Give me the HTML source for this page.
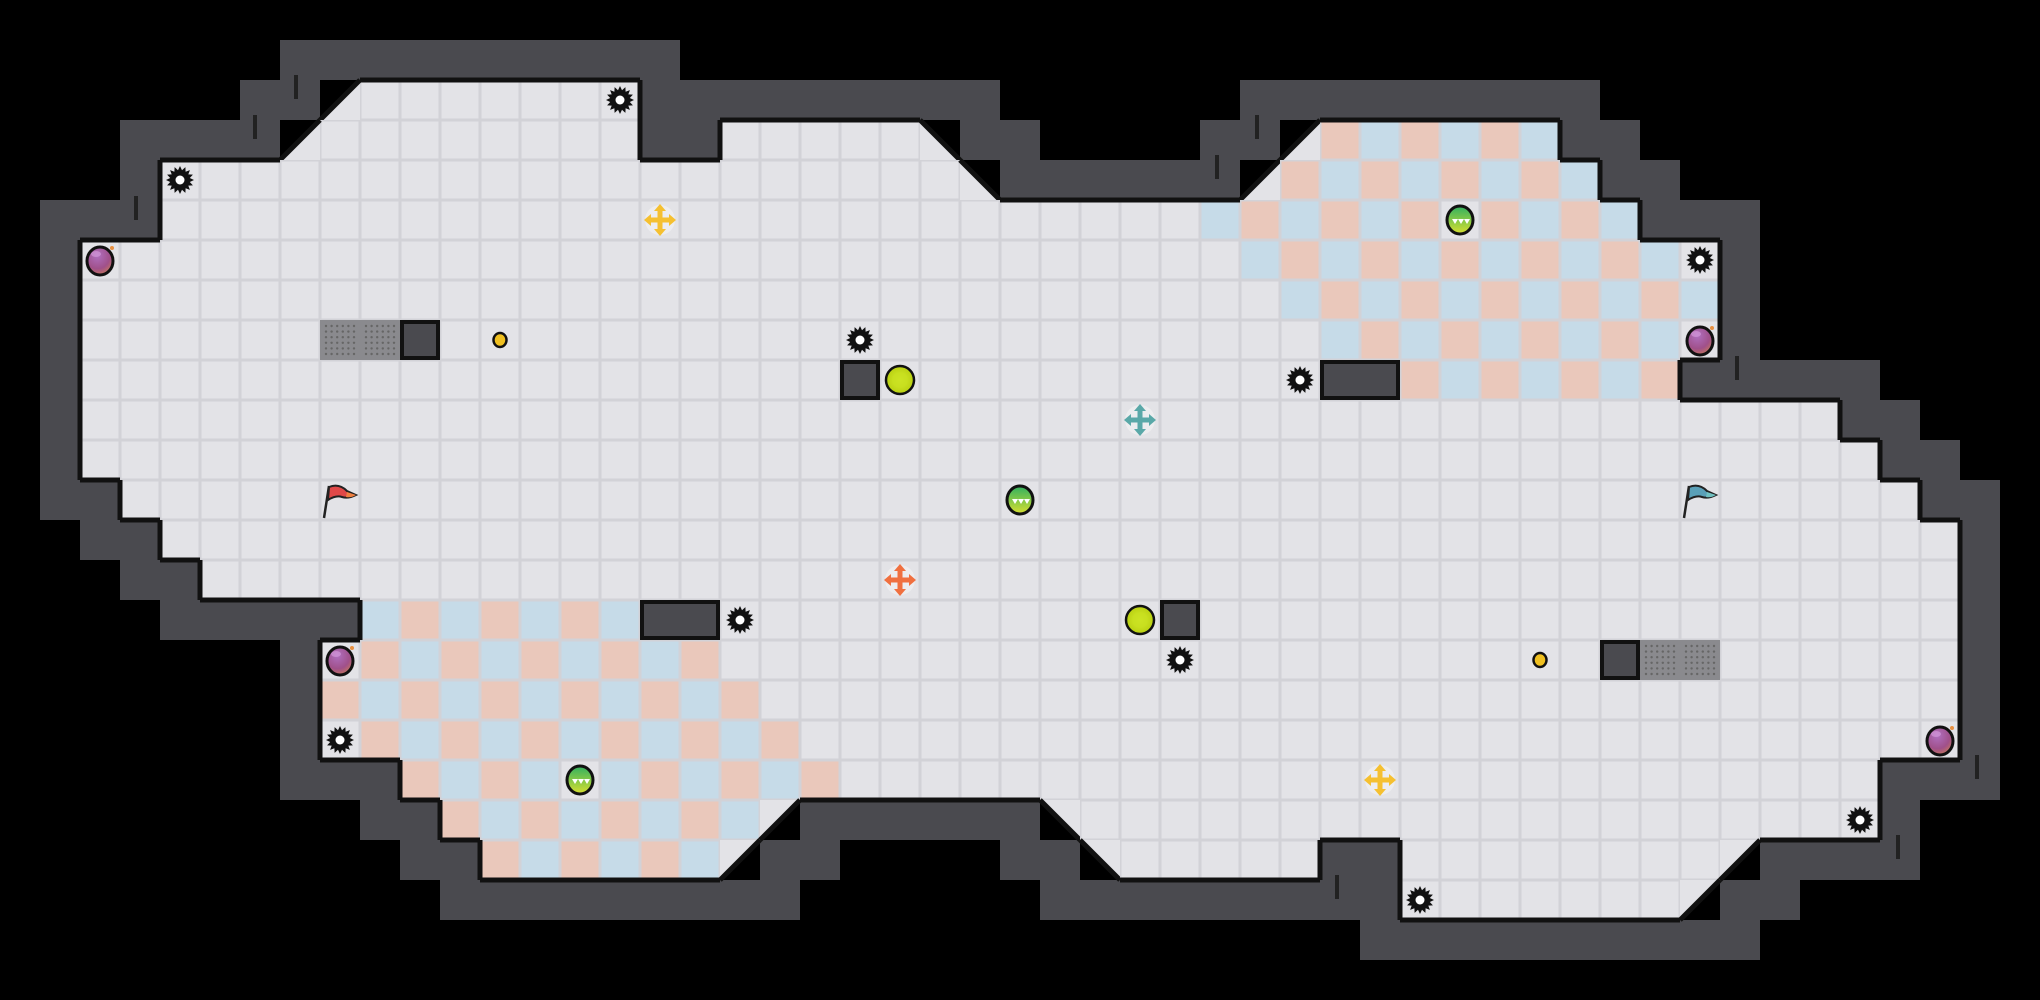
<!DOCTYPE html>
<html><head><meta charset="utf-8"><style>
html,body{margin:0;padding:0;background:#000;}
svg{display:block;}
</style></head><body>
<svg id="m" width="2040" height="1000" viewBox="0 0 2040 1000" xmlns="http://www.w3.org/2000/svg">
<defs>
<radialGradient id="pg" cx="0.4" cy="0.3" r="0.8"><stop offset="0" stop-color="#b070c0"/><stop offset="0.6" stop-color="#a0508a"/><stop offset="1" stop-color="#d08050"/></radialGradient>
<linearGradient id="gg" x1="0" y1="0" x2="0" y2="1"><stop offset="0" stop-color="#30b060"/><stop offset="1" stop-color="#d8e030"/></linearGradient>
<radialGradient id="lg" cx="0.5" cy="0.5" r="0.5"><stop offset="0" stop-color="#d8ec30"/><stop offset="1" stop-color="#b8d010"/></radialGradient>
</defs>
<rect width="2040" height="1000" fill="#000"/>
<g id="g"></g>
</svg>
<script>
var S=40,W=51,H=25;
var F={}; // key r,c -> type: 'f' floor, 'tl','tr','bl','br' diag, 'b' block, 'gr' grate
function k(r,c){return r+','+c;}
function fl(r,a,b){for(var c=a;c<=b;c++)F[k(r,c)]='f';}
fl(2,9,15);F[k(2,8)]='br';
fl(3,8,15);F[k(3,7)]='br';fl(3,18,22);F[k(3,23)]='bl';F[k(3,32)]='br';fl(3,33,38);
fl(4,4,23);F[k(4,24)]='bl';F[k(4,31)]='br';fl(4,32,39);
fl(5,4,40);
fl(6,2,42);fl(7,2,42);fl(8,2,42);fl(9,2,41);fl(10,2,45);fl(11,2,46);
fl(12,3,47);fl(13,4,48);fl(14,5,48);fl(15,9,48);fl(16,8,48);fl(17,8,48);fl(18,8,48);
fl(19,10,46);
fl(20,11,18);F[k(20,19)]='tl';F[k(20,26)]='tr';fl(20,27,46);
fl(21,12,17);F[k(21,18)]='tl';F[k(21,27)]='tr';fl(21,28,32);fl(21,35,42);F[k(21,43)]='tl';
fl(22,35,41);F[k(22,42)]='tl';
// blocks & grates
[[8,10],[9,21],[9,33],[9,34],[15,16],[15,17],[15,29],[16,40]].forEach(function(p){F[k(p[0],p[1])]='b';});
[[8,8],[8,9],[16,41],[16,42]].forEach(function(p){F[k(p[0],p[1])]='gr';});
// checker colors
var C={};
function ch(r,a,b,par){for(var c=a;c<=b;c++){C[k(r,c)]=((r+c)%2==par)?'#c6dbe8':'#eac8bb';}}
// left region: blue when even -> par 0 blue
ch(15,9,15,0);ch(16,9,17,0);ch(17,8,18,0);ch(18,9,19,0);ch(19,10,20,0);ch(20,11,18,0);ch(21,12,17,0);
delete C[k(19,14)];
// right region: pink when even -> blue when odd
ch(3,33,38,1);ch(4,32,39,1);ch(5,30,40,1);ch(6,31,41,1);ch(7,32,42,1);ch(8,33,41,1);ch(9,35,41,1);
delete C[k(5,36)];
var out=[];
function isF(r,c){return F[k(r,c)]!==undefined;}
// walls
for(var r=0;r<H;r++)for(var c=0;c<W;c++){
 if(isF(r,c))continue;var w=false;
 for(var dr=-1;dr<=1;dr++)for(var dc=-1;dc<=1;dc++)if(isF(r+dr,c+dc))w=true;
 if(w)out.push('<rect x="'+c*S+'" y="'+r*S+'" width="'+S+'" height="'+S+'" fill="#4a4a4f"/>');
}
function tile(x,y,col){
 var base=col||'#e3e3e7';
 return '<rect x="'+x+'" y="'+y+'" width="40" height="40" fill="#d2d2d7"/><rect x="'+(x+1.5)+'" y="'+(y+1.5)+'" width="37" height="37" fill="'+base+'"/>';
}
for(var key in F){
 var p=key.split(','),r=+p[0],c=+p[1],t=F[key],x=c*S,y=r*S;
 if(t=='f'){out.push(tile(x,y,C[key]));}
 else if(t=='b'){out.push(tile(x,y));}
 else if(t=='gr'){out.push('<rect x="'+x+'" y="'+y+'" width="40" height="40" fill="#8a8a8e"/>');
   var d='';for(var i=0;i<6;i++)for(var j=0;j<6;j++)d+='<circle cx="'+(x+6+i*5.6)+'" cy="'+(y+6+j*5.6)+'" r="1.2" fill="#666"/>';out.push(d);}
 else{
  var pts;
  if(t=='br')pts=[[x+40,y],[x+40,y+40],[x,y+40]];
  if(t=='bl')pts=[[x,y],[x+40,y+40],[x,y+40]];
  if(t=='tl')pts=[[x,y],[x+40,y],[x,y+40]];
  if(t=='tr')pts=[[x,y],[x+40,y],[x+40,y+40]];
  out.push('<polygon points="'+pts.map(function(q){return q.join(',')}).join(' ')+'" fill="#e3e3e7"/>');
  var l;
  if(t=='br'||t=='tl')l=[x+40,y,x,y+40];else l=[x,y,x+40,y+40];
  out.push('<line x1="'+l[0]+'" y1="'+l[1]+'" x2="'+l[2]+'" y2="'+l[3]+'" stroke="#111" stroke-width="5"/>');
 }
}
// floor borders
function solid(r,c){var t=F[k(r,c)];return t=='f'||t=='gr';}
for(var key in F){
 var p=key.split(','),r=+p[0],c=+p[1],t=F[key],x=c*S,y=r*S;
 if(t=='b'){out.push('<rect x="'+(x+2)+'" y="'+(y+2)+'" width="36" height="36" fill="#4a4a4f" stroke="#111" stroke-width="4"/>');continue;}
 if(t!='f'&&t!='gr')continue;
 if(!isF(r-1,c))out.push('<line x1="'+x+'" y1="'+y+'" x2="'+(x+40)+'" y2="'+y+'" stroke="#111" stroke-width="5"/>');
 if(!isF(r+1,c))out.push('<line x1="'+x+'" y1="'+(y+40)+'" x2="'+(x+40)+'" y2="'+(y+40)+'" stroke="#111" stroke-width="5"/>');
 if(!isF(r,c-1))out.push('<line x1="'+x+'" y1="'+y+'" x2="'+x+'" y2="'+(y+40)+'" stroke="#111" stroke-width="5"/>');
 if(!isF(r,c+1))out.push('<line x1="'+(x+40)+'" y1="'+y+'" x2="'+(x+40)+'" y2="'+(y+40)+'" stroke="#111" stroke-width="5"/>');
}
// merge adjacent blocks visually
out.push('<rect x="1322" y="362" width="76" height="36" fill="#4a4a4f" stroke="#111" stroke-width="4"/>');
out.push('<rect x="642" y="602" width="76" height="36" fill="#4a4a4f" stroke="#111" stroke-width="4"/>');
// wall ticks
[[296,87],[255,127],[136,208],[1217,167],[1257,127],[1737,368],[1337,887],[1898,847],[1977,767]].forEach(function(p){
 out.push('<line x1="'+p[0]+'" y1="'+(p[1]-12)+'" x2="'+p[0]+'" y2="'+(p[1]+12)+'" stroke="#222" stroke-width="4"/>');});
function cc(r,c){return [c*S+20,r*S+20];}
function gear(r,c){var p=cc(r,c),s='';for(var i=0;i<32;i++){var a=i*Math.PI/16,rr=(i%2)?10:14;s+=(p[0]+rr*Math.cos(a)).toFixed(1)+','+(p[1]+rr*Math.sin(a)).toFixed(1)+' ';}
 return '<polygon points="'+s+'" fill="#111"/><circle cx="'+p[0]+'" cy="'+p[1]+'" r="4.5" fill="#fff"/>';}
[[2,15],[4,4],[8,21],[9,32],[6,42],[15,18],[16,29],[18,8],[20,46],[22,35]].forEach(function(q){out.push(gear(q[0],q[1]));});
function purple(r,c){var p=cc(r,c);return '<ellipse cx="'+p[0]+'" cy="'+(p[1]+1)+'" rx="13" ry="14" fill="url(#pg)" stroke="#111" stroke-width="3"/><circle cx="'+(p[0]+12)+'" cy="'+(p[1]-12)+'" r="2" fill="#e89040"/><ellipse cx="'+(p[0]-4)+'" cy="'+(p[1]-6)+'" rx="5" ry="3" fill="#d8a0e0" opacity="0.6"/>';}
[[6,2],[8,42],[16,8],[18,48]].forEach(function(q){out.push(purple(q[0],q[1]));});
function green(r,c){var p=cc(r,c),x=p[0],y=p[1];return '<ellipse cx="'+x+'" cy="'+y+'" rx="13" ry="14" fill="url(#gg)" stroke="#111" stroke-width="3"/><path d="M'+(x-8)+','+(y-1)+' l3,5 l3,-5z M'+(x-2)+','+(y-1)+' l3,5 l3,-5z M'+(x+4)+','+(y-1)+' l3,5 l3,-5z" fill="#fff"/>';}
[[5,36],[12,25],[19,14]].forEach(function(q){out.push(green(q[0],q[1]));});
function lime(r,c){var p=cc(r,c);return '<circle cx="'+p[0]+'" cy="'+p[1]+'" r="14" fill="url(#lg)" stroke="#111" stroke-width="2.5"/><circle cx="'+p[0]+'" cy="'+p[1]+'" r="8" fill="#c8e020" opacity="0.7"/>';}
[[9,22],[15,28]].forEach(function(q){out.push(lime(q[0],q[1]));});
function coin(r,c){var p=cc(r,c);return '<ellipse cx="'+p[0]+'" cy="'+p[1]+'" rx="6.5" ry="7" fill="#f0c020" stroke="#111" stroke-width="2.5"/>';}
out.push(coin(8,12));out.push(coin(16,38));
function cross(r,c,col){var p=cc(r,c),x=p[0],y=p[1];
 return '<circle cx="'+x+'" cy="'+y+'" r="15" fill="#fff" opacity="0.35"/><g stroke="'+col+'" stroke-width="5" stroke-linecap="round"><line x1="'+(x-11)+'" y1="'+y+'" x2="'+(x+11)+'" y2="'+y+'"/><line x1="'+x+'" y1="'+(y-11)+'" x2="'+x+'" y2="'+(y+11)+'"/></g><g fill="'+col+'"><polygon points="'+(x-16)+','+y+' '+(x-9)+','+(y-6)+' '+(x-9)+','+(y+6)+'"/><polygon points="'+(x+16)+','+y+' '+(x+9)+','+(y-6)+' '+(x+9)+','+(y+6)+'"/><polygon points="'+x+','+(y-16)+' '+(x-6)+','+(y-9)+' '+(x+6)+','+(y-9)+'"/><polygon points="'+x+','+(y+16)+' '+(x-6)+','+(y+9)+' '+(x+6)+','+(y+9)+'"/></g>';}
out.push(cross(5,16,'#f5c030'));out.push(cross(10,28,'#5aa8a8'));out.push(cross(14,22,'#f07040'));out.push(cross(19,34,'#f5c030'));
function flag(r,c,col,col2){var x=c*S,y=r*S;
 return '<line x1="'+(x+4)+'" y1="'+(y+38)+'" x2="'+(x+9)+'" y2="'+(y+6)+'" stroke="#222" stroke-width="2.5"/><path d="M'+(x+9)+','+(y+7)+' q10,-4 18,4 l9,4 q-8,4 -14,2 q-6,-2 -14,3z" fill="'+col+'" stroke="#222" stroke-width="2"/><path d="M'+(x+27)+','+(y+12)+' l9,3 q-5,3 -10,2z" fill="'+col2+'"/>';}
out.push(flag(12,8,'#e04848','#f08040'));out.push(flag(12,42,'#5aa0b8','#70c0c0'));
document.getElementById('g').innerHTML=out.join('');
</script>
</body></html>
